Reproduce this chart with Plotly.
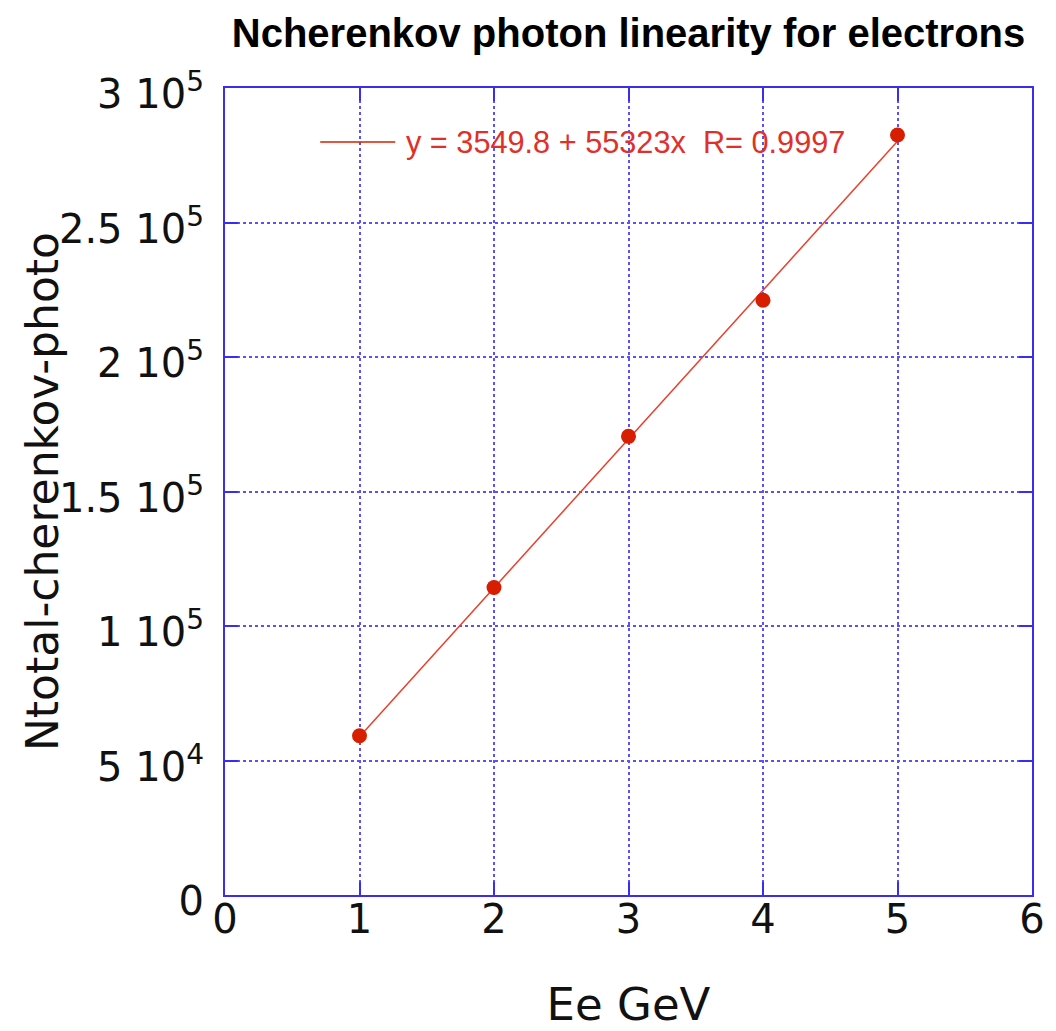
import plotly.graph_objects as go

# Beam energy (GeV) and total Cherenkov photon count per electron shower
energy_gev = [1, 2, 3, 4, 5]
n_photons = [59200, 114300, 170500, 221100, 282500]

# Linear fit quoted on the chart
fit_intercept = 3549.8
fit_slope = 55323
fit_r = 0.9997

x_tickvals = [0, 1, 2, 3, 4, 5, 6]
y_tickvals = [0, 50000, 100000, 150000, 200000, 250000, 300000]
y_ticktext = ["0", "5 10<sup>4</sup>", "1 10<sup>5</sup>", "1.5 10<sup>5</sup>",
              "2 10<sup>5</sup>", "2.5 10<sup>5</sup>", "3 10<sup>5</sup>"]

AXIS_BLUE = "#3a2cf0"
GRID_BLUE = "#5a50ff"
RED = "#d81e00"
FONT = "DejaVu Sans"

fit_x = [energy_gev[0], energy_gev[-1]]
fit_y = [fit_intercept + fit_slope * x for x in fit_x]

fig = go.Figure()
fig.add_trace(go.Scatter(
    x=fit_x, y=fit_y, mode="lines",
    line=dict(color="#e8402c", width=1.5),
    showlegend=False, hoverinfo="skip",
))
fig.add_trace(go.Scatter(
    x=energy_gev, y=n_photons, mode="markers",
    marker=dict(color=RED, size=15),
    showlegend=False,
))

# Fit legend: short key line followed by the equation
fig.add_shape(type="line", xref="paper", yref="paper",
              x0=0.118, x1=0.211, y0=0.933, y1=0.933,
              line=dict(color="#d81e00", width=1.5))
fig.add_annotation(
    xref="paper", yref="paper", x=0.222, y=0.933,
    xanchor="left", yanchor="middle", showarrow=False,
    text=f"y = {fit_intercept} + {fit_slope}x  R= {fit_r}",
    font=dict(family="Liberation Sans", size=30.7, color="#e0302a"),
)

# Vertical axis title overlapping the tick labels
fig.add_annotation(
    xref="paper", yref="paper", x=-0.226, y=0.5,
    xanchor="center", yanchor="middle", showarrow=False,
    text="Ntotal-cherenkov-photo", textangle=-90,
    font=dict(family=FONT, size=44, color="#111111"),
)

axis_common = dict(
    showline=True, linecolor=AXIS_BLUE, linewidth=2, mirror="ticks",
    ticks="inside", ticklen=13, tickwidth=2, tickcolor=AXIS_BLUE,
    showgrid=True, gridcolor=GRID_BLUE, gridwidth=1.5, griddash="dot",
    zeroline=False, automargin=False,
    tickfont=dict(family=FONT, size=40, color="#111111"),
)

fig.update_xaxes(
    range=[0, 6], tickvals=x_tickvals,
    title=dict(text="Ee GeV", font=dict(family=FONT, size=45, color="#111111"), standoff=55),
    ticklabelstandoff=-12,
    **axis_common,
)
fig.update_yaxes(
    range=[0, 300000], tickvals=y_tickvals, ticktext=y_ticktext,
    ticklabelstandoff=11, ticklabelshift=6,
    **axis_common,
)

fig.update_layout(
    width=1056, height=1031,
    margin=dict(l=225, r=24, t=88, b=136),
    paper_bgcolor="white", plot_bgcolor="white",
    title=dict(
        text="<b>Ncherenkov photon linearity for electrons</b>",
        xref="paper", x=0.5, xanchor="center",
        yref="container", y=1 - 33 / 1031, yanchor="middle",
        font=dict(family="Liberation Sans", size=40, color="#000000"),
    ),
)

fig.write_html("out.html")
